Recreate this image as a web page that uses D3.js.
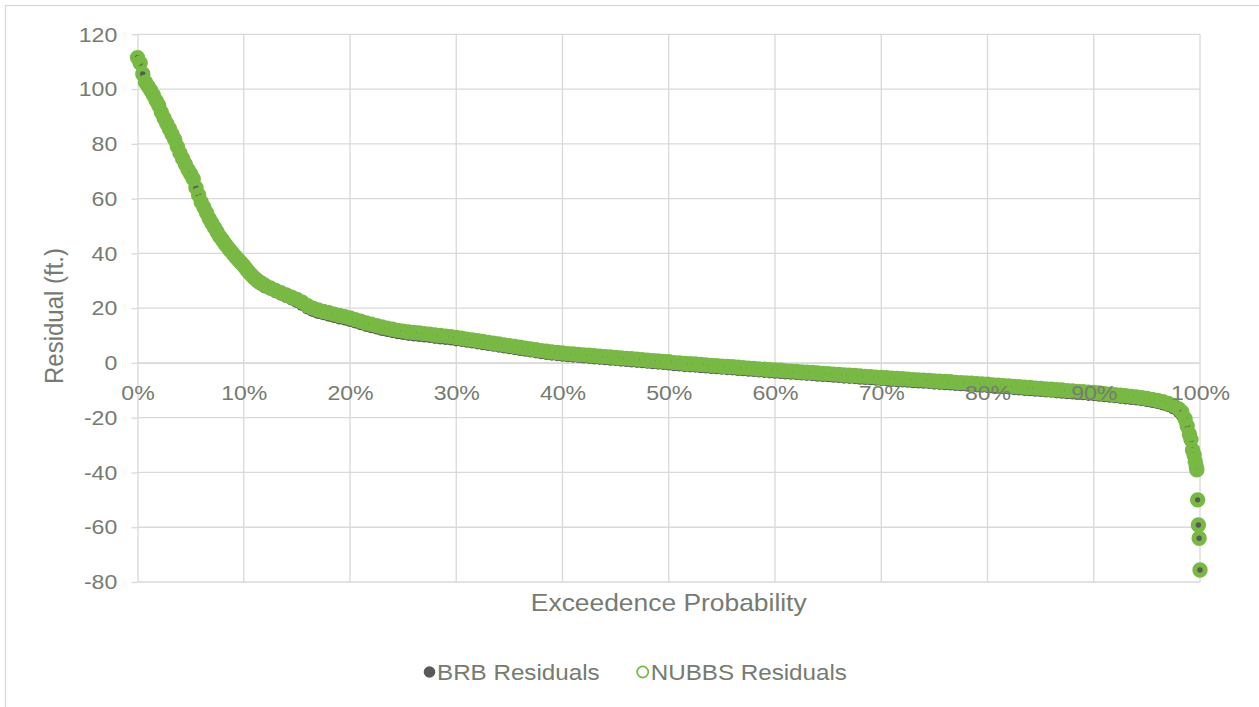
<!DOCTYPE html>
<html>
<head>
<meta charset="utf-8">
<script src="https://cdn.jsdelivr.net/npm/d3@7"></script>
<style>
html,body{margin:0;padding:0;background:#fff;}
svg{display:block;}
</style>
</head>
<body>
<svg id="chart" width="1259" height="707"></svg>
<script>
// ---------------- DATA ----------------
// Exceedence probability (%) of each plotted point
const exceedancePct = [
  0,0.25,0.5,0.75,1,1.25,1.5,1.75,2,2.25,2.5,2.75,3,3.25,3.5,3.75,4,4.25,4.5,4.75,
  5,5.25,5.5,5.75,6,6.25,6.5,6.75,7,7.25,7.5,7.75,8,8.25,8.5,8.75,9,9.25,9.5,9.75,
  10,10.25,10.5,10.75,11,11.25,11.5,11.75,12,
  12.5,13,13.5,14,14.5,15,15.5,16,16.5,17,17.5,18,18.5,19,19.5,20,20.5,21,21.5,22,
  22.5,23,23.5,24,24.5,25,25.5,26,26.5,27,27.5,28,28.5,29,29.5,30,
  30.5,31,31.5,32,32.5,33,33.5,34,34.5,35,35.5,36,36.5,37,37.5,38,38.5,39,39.5,40,
  40.5,41,41.5,42,42.5,43,43.5,44,44.5,45,45.5,46,46.5,47,47.5,48,48.5,49,49.5,50,
  50.5,51,51.5,52,52.5,53,53.5,54,54.5,55,55.5,56,56.5,57,57.5,58,58.5,59,59.5,60,
  60.5,61,61.5,62,62.5,63,63.5,64,64.5,65,65.5,66,66.5,67,67.5,68,68.5,69,69.5,70,
  70.5,71,71.5,72,72.5,73,73.5,74,74.5,75,75.5,76,76.5,77,77.5,78,78.5,79,79.5,80,
  80.5,81,81.5,82,82.5,83,83.5,84,84.5,85,85.5,86,86.5,87,87.5,88,88.5,89,89.5,90,
  90.5,91,91.5,92,92.5,93,93.5,94,94.5,95,95.5,96,96.5,97,
  97.5,98,98.3,98.6,98.8,99,99.15,99.3,99.45,99.55,99.65,99.7,99.78,99.85,99.92,100
];

// BRB residuals (ft.)
const brbResiduals = [
  111.2,109.3,105.2,102.2,100.7,99.2,97.5,95.5,93.7,91.2,89.1,87.1,85.2,83.2,81.3,78.7,76.3,74.3,72.3,70.3,
  68.7,66.9,63.7,61.0,58.4,56.5,54.5,52.4,50.7,49.1,47.4,45.8,44.5,43.1,41.9,40.7,39.5,38.4,37.3,36.3,
  35.2,33.9,32.7,31.6,30.5,29.6,28.9,28.2,27.6,
  26.8,25.9,25.0,24.1,23.2,22.3,21.2,19.9,19.0,18.3,17.8,17.3,16.8,16.3,15.9,15.4,14.8,14.2,13.6,13.1,
  12.6,12.1,11.7,11.3,10.9,10.6,10.3,10.1,9.9,9.7,9.5,9.2,9.0,8.8,8.6,8.3,
  8.1,7.8,7.5,7.2,6.9,6.6,6.3,6.0,5.7,5.4,5.1,4.8,4.5,4.2,3.9,3.6,3.35,3.1,2.9,2.7,
  2.5,2.35,2.2,2.05,1.9,1.7,1.55,1.4,1.25,1.1,0.9,0.75,0.6,0.45,0.3,0.1,-0.05,-0.2,-0.35,-0.5,
  -0.8,-0.9,-1.1,-1.2,-1.3,-1.5,-1.6,-1.8,-1.9,-2.1,-2.2,-2.3,-2.5,-2.6,-2.8,-2.9,-3.1,-3.2,-3.4,-3.5,
  -3.6,-3.8,-3.9,-4.0,-4.2,-4.3,-4.4,-4.6,-4.7,-4.8,-5.0,-5.1,-5.3,-5.4,-5.5,-5.7,-5.8,-5.9,-6.1,-6.2,
  -6.3,-6.5,-6.6,-6.7,-6.8,-7.0,-7.1,-7.2,-7.3,-7.5,-7.6,-7.7,-7.8,-8.0,-8.1,-8.2,-8.3,-8.5,-8.6,-8.7,
  -8.9,-9.0,-9.2,-9.3,-9.5,-9.6,-9.8,-9.9,-10.1,-10.2,-10.4,-10.5,-10.7,-10.8,-11.0,-11.1,-11.3,-11.4,-11.6,-11.7,
  -11.9,-12.1,-12.3,-12.5,-12.7,-12.9,-13.1,-13.3,-13.6,-13.9,-14.2,-14.6,-15.1,-15.7,
  -16.6,-17.9,-19.2,-21.6,-24.0,-26.8,-28.3,-32.0,-33.8,-36.1,-37.9,-39.1,-49.8,-59.1,-64.1,-75.6
];

// NUBBS residuals (ft.)
const nubbsResiduals = [
  111.5,109.5,105.5,102.5,101,99.5,97.8,95.8,94,91.5,89.4,87.4,85.5,83.5,81.6,79,76.6,74.6,72.6,70.6,
  69,67.2,64,61.3,58.7,56.8,54.8,52.7,51,49.4,47.7,46.1,44.8,43.4,42.2,41,39.8,38.7,37.6,36.6,
  35.5,34.2,33,32,31,30.2,29.5,28.9,28.3,
  27.4,26.5,25.6,24.8,24.0,23.2,22.2,20.9,20.0,19.3,18.8,18.3,17.8,17.3,16.9,16.4,15.8,15.2,14.6,14.1,
  13.6,13.1,12.7,12.3,11.9,11.6,11.3,11.1,10.9,10.7,10.5,10.2,10.0,9.8,9.6,9.3,
  9.0,8.7,8.4,8.1,7.8,7.5,7.2,6.9,6.6,6.3,6.0,5.7,5.4,5.1,4.8,4.5,4.25,4.0,3.8,3.6,
  3.4,3.25,3.1,2.95,2.8,2.6,2.45,2.3,2.15,2.0,1.8,1.65,1.5,1.35,1.2,1.0,0.85,0.7,0.55,0.4,
  0.1,0.0,-0.2,-0.3,-0.4,-0.6,-0.7,-0.9,-1.0,-1.2,-1.3,-1.4,-1.6,-1.7,-1.9,-2.0,-2.2,-2.3,-2.5,-2.6,
  -2.7,-2.9,-3.0,-3.1,-3.3,-3.4,-3.5,-3.7,-3.8,-3.9,-4.1,-4.2,-4.4,-4.5,-4.6,-4.8,-4.9,-5.0,-5.2,-5.3,
  -5.4,-5.6,-5.7,-5.8,-5.9,-6.1,-6.2,-6.3,-6.4,-6.6,-6.7,-6.8,-6.9,-7.1,-7.2,-7.3,-7.4,-7.6,-7.7,-7.8,
  -8.0,-8.1,-8.3,-8.4,-8.6,-8.7,-8.9,-9.0,-9.2,-9.3,-9.5,-9.6,-9.8,-9.9,-10.1,-10.2,-10.4,-10.5,-10.7,-10.8,
  -11.0,-11.2,-11.4,-11.6,-11.8,-12.0,-12.2,-12.4,-12.7,-13.0,-13.3,-13.7,-14.2,-14.8,
  -15.6,-16.8,-18.0,-20.5,-23.0,-26.0,-28.0,-31.8,-33.6,-36.0,-37.8,-39.0,-50.0,-59.2,-64.0,-75.6
];

const seriesNames = ["BRB Residuals", "NUBBS Residuals"];
const xTickValues = [0,10,20,30,40,50,60,70,80,90,100];
const yTickValues = [-80,-60,-40,-20,0,20,40,60,80,100,120];
const xAxisTitle = "Exceedence Probability";
const yAxisTitle = "Residual (ft.)";

// ---------------- DRAWING ----------------
const FONT = '"Liberation Sans", Arial, sans-serif';
const TEXT = "#767b72";
const GRID = "#d9d9d9";
const GREEN = "#78b943";
const DARK = "#595959";

const svg = d3.select("#chart").attr("font-family", FONT);

const x = d3.scaleLinear().domain([0, 100]).range([137.5, 1200]);
const y = d3.scaleLinear().domain([-80, 120]).range([582, 34.3]);

// chart-area border (right/bottom edges fall outside the picture)
svg.append("rect")
  .attr("x", 5.5).attr("y", 5.5).attr("width", 1262).attr("height", 712)
  .attr("fill", "#fff").attr("stroke", GRID).attr("stroke-width", 1.3);

// gridlines
svg.append("g").selectAll("line").data(yTickValues).join("line")
  .attr("x1", x(0)).attr("x2", x(100))
  .attr("y1", d => y(d)).attr("y2", d => y(d))
  .attr("stroke", GRID).attr("stroke-width", 1.3);
svg.append("g").selectAll("line").data(xTickValues.filter(d => d > 0)).join("line")
  .attr("x1", d => x(d)).attr("x2", d => x(d))
  .attr("y1", y(120)).attr("y2", y(-80))
  .attr("stroke", GRID).attr("stroke-width", 1.3);

// axis lines + tick marks (beneath the markers)
const yAxisLines = svg.append("g")
  .attr("transform", `translate(${x(0)},0)`)
  .call(d3.axisLeft(y).tickValues(yTickValues).tickSizeInner(6).tickSizeOuter(0).tickFormat(""));
yAxisLines.select(".domain").attr("stroke", GRID).attr("stroke-width", 1.3);
yAxisLines.selectAll(".tick line").attr("stroke", GRID).attr("stroke-width", 1.3);
yAxisLines.selectAll(".tick text").remove();

const xAxisLines = svg.append("g")
  .attr("transform", `translate(0,${y(0)})`)
  .call(d3.axisBottom(x).tickValues(xTickValues).tickSizeInner(0).tickSizeOuter(0).tickFormat(""));
xAxisLines.select(".domain").attr("stroke", GRID).attr("stroke-width", 1.3);
xAxisLines.selectAll(".tick").remove();

// series
const brbData = exceedancePct.map((p, i) => ({ p, v: brbResiduals[i] }));
const nubbsData = exceedancePct.map((p, i) => ({ p, v: nubbsResiduals[i] }));

svg.append("g").selectAll("circle").data(brbData).join("circle")
  .attr("cx", d => x(d.p)).attr("cy", d => y(d.v))
  .attr("r", 6.2).attr("fill", DARK);

svg.append("g").selectAll("circle").data(nubbsData).join("circle")
  .attr("cx", d => x(d.p)).attr("cy", d => y(d.v))
  .attr("r", 5.2).attr("fill", "none")
  .attr("stroke", GREEN).attr("stroke-width", 5);

// tick labels (drawn above the markers)
const yAxisText = svg.append("g")
  .attr("transform", `translate(${x(0)},0)`)
  .call(d3.axisLeft(y).tickValues(yTickValues).tickSizeInner(6).tickSizeOuter(0).tickFormat(d => String(d)));
yAxisText.attr("font-family", FONT).attr("font-size", 21);
yAxisText.select(".domain").remove();
yAxisText.selectAll(".tick line").remove();
yAxisText.selectAll(".tick text").attr("x", -18.4).attr("fill", TEXT).attr("transform", "scale(1.1,1)");

const xAxisText = svg.append("g")
  .attr("transform", `translate(0,${y(0)})`)
  .call(d3.axisBottom(x).tickValues(xTickValues).tickSizeInner(0).tickSizeOuter(0).tickFormat(d => d + "%"));
xAxisText.attr("font-family", FONT).attr("font-size", 21);
xAxisText.select(".domain").remove();
xAxisText.selectAll(".tick line").remove();
xAxisText.selectAll(".tick text").attr("y", 37).attr("dy", null).attr("fill", TEXT).attr("transform", "scale(1.1,1)");

// axis titles
svg.append("text")
  .attr("transform", `translate(${(x(0) + x(100)) / 2},611) scale(1.1,1)`)
  .attr("text-anchor", "middle").attr("font-size", 24).attr("fill", TEXT)
  .text(xAxisTitle);
svg.append("text")
  .attr("transform", `translate(63,316) scale(1.1,1) rotate(-90)`)
  .attr("text-anchor", "middle").attr("font-size", 24).attr("fill", TEXT)
  .text(yAxisTitle);

// legend
const legend = svg.append("g").attr("font-size", 22).attr("fill", TEXT);
legend.append("circle").attr("cx", 429.5).attr("cy", 672).attr("r", 5.8).attr("fill", DARK);
legend.append("text").attr("transform", "translate(437,679.5) scale(1.1,1)").text(seriesNames[0]);
legend.append("circle").attr("cx", 642.7).attr("cy", 672).attr("r", 5.6)
  .attr("fill", "none").attr("stroke", GREEN).attr("stroke-width", 1.7);
legend.append("text").attr("transform", "translate(650.7,679.5) scale(1.1,1)").text(seriesNames[1]);
</script>
</body>
</html>
